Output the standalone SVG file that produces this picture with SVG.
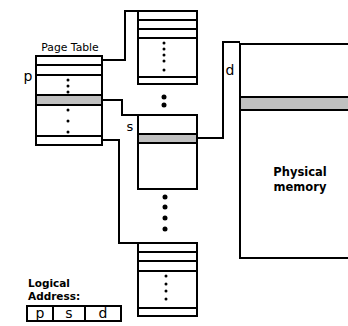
<svg xmlns="http://www.w3.org/2000/svg" width="348" height="326" viewBox="0 0 348 326">
<style>
.box{fill:#fff;stroke:#000;stroke-width:2}
.ln{stroke:#000;stroke-width:2;fill:none}
.gray{fill:#c0c0c0;stroke:#000;stroke-width:2}
.dot{fill:#000}
.t{font-family:"DejaVu Sans","Liberation Sans",sans-serif;fill:#000}
</style>
<rect width="348" height="326" fill="#fff"/>
<g id="connectors">
<path class="ln" d="M102,60 H125 V11 H138"/>
<path class="ln" d="M102,100 H122 V115 H138"/>
<path class="ln" d="M102,140 H119 V243 H138"/>
<path class="ln" d="M197,138 H223 V42 H240"/>
</g>
<g id="page-table">
<text class="t" x="70" y="51" font-size="10.8" text-anchor="middle">Page Table</text>
<text class="t" x="28" y="81" font-size="14" text-anchor="middle">p</text>
<rect class="box" x="36" y="56" width="66" height="89"/>
<rect class="gray" x="36" y="95" width="66" height="10"/>
<path class="ln" d="M36,65 H102 M36,75 H102 M36,136 H102"/>
<circle class="dot" cx="68" cy="80" r="1.5"/>
<circle class="dot" cx="68" cy="86" r="1.5"/>
<circle class="dot" cx="68" cy="92" r="1.5"/>
<circle class="dot" cx="68" cy="110" r="1.5"/>
<circle class="dot" cx="68" cy="121" r="1.5"/>
<circle class="dot" cx="68" cy="132" r="1.5"/>
</g>
<g id="table-top">
<rect class="box" x="138" y="11" width="59" height="73"/>
<path class="ln" d="M138,20 H197 M138,29 H197 M138,38 H197 M138,77 H197"/>
<circle class="dot" cx="164" cy="43" r="1.5"/>
<circle class="dot" cx="164" cy="49" r="1.5"/>
<circle class="dot" cx="164" cy="55" r="1.5"/>
<circle class="dot" cx="164" cy="61" r="1.5"/>
<circle class="dot" cx="164" cy="70" r="1.5"/>
</g>
<g id="dots-upper">
<circle class="dot" cx="164" cy="97" r="2.5"/>
<circle class="dot" cx="164" cy="105" r="2.5"/>
</g>
<g id="table-s">
<text class="t" x="130" y="131" font-size="13" text-anchor="middle">s</text>
<rect class="box" x="138" y="115" width="59" height="74"/>
<rect class="gray" x="138" y="134" width="59" height="9"/>
</g>
<g id="dots-lower">
<circle class="dot" cx="165" cy="197" r="2.5"/>
<circle class="dot" cx="165" cy="207" r="2.5"/>
<circle class="dot" cx="165" cy="218" r="2.5"/>
<circle class="dot" cx="165" cy="229" r="2.5"/>
</g>
<g id="table-bottom">
<rect class="box" x="138" y="243" width="59" height="73"/>
<path class="ln" d="M138,252 H197 M138,261 H197 M138,271 H197 M138,308 H197"/>
<circle class="dot" cx="166" cy="276" r="1.5"/>
<circle class="dot" cx="166" cy="284" r="1.5"/>
<circle class="dot" cx="166" cy="291" r="1.5"/>
<circle class="dot" cx="166" cy="299" r="1.5"/>
</g>
<g id="physical-memory">
<text class="t" x="230" y="75" font-size="14" text-anchor="middle">d</text>
<path class="ln" d="M350,44 H240 V258 H350"/>
<rect class="gray" x="240" y="97" width="112" height="13"/>
<text class="t" x="300" y="176" font-size="11.5" font-weight="bold" text-anchor="middle">Physical</text>
<text class="t" x="300" y="191" font-size="11.5" font-weight="bold" text-anchor="middle">memory</text>
</g>
<g id="logical-address">
<text class="t" x="28" y="287" font-size="10.5" font-weight="bold">Logical</text>
<text class="t" x="28" y="300" font-size="10.5" font-weight="bold">Address:</text>
<rect class="box" x="27" y="306" width="94" height="15"/>
<path class="ln" d="M53,306 V321 M85,306 V321"/>
<text class="t" x="40" y="318" font-size="14" text-anchor="middle">p</text>
<text class="t" x="69" y="318" font-size="14" text-anchor="middle">s</text>
<text class="t" x="103" y="318" font-size="14" text-anchor="middle">d</text>
</g>
</svg>
